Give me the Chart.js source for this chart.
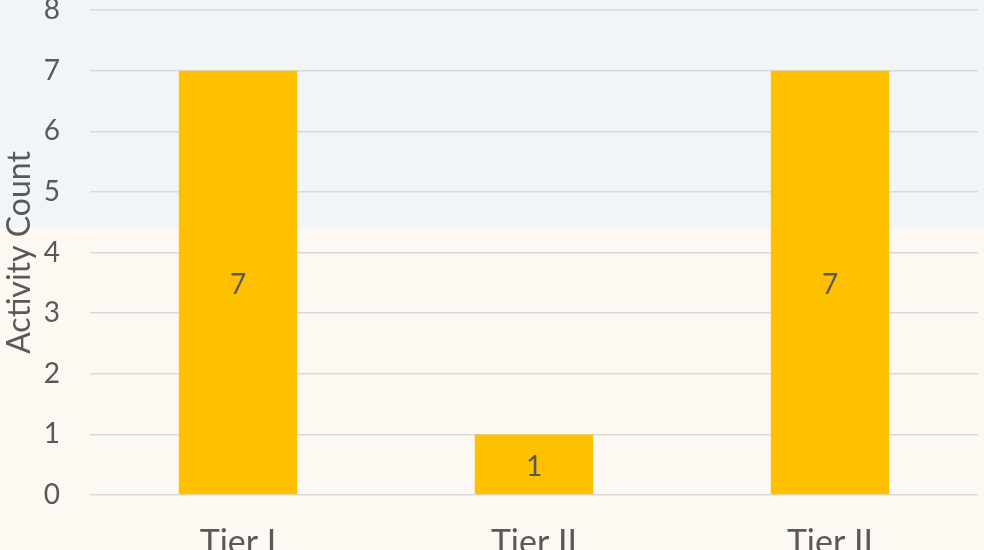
<!DOCTYPE html>
<html>
<head>
<meta charset="utf-8">
<script src="https://cdn.jsdelivr.net/npm/chart.js@4"></script>
<style>
  html, body {
    margin: 0;
    padding: 0;
    width: 984px;
    height: 550px;
    overflow: hidden;
    background: linear-gradient(to bottom, #f1f5f7 0px, #f1f5f7 228px, #fdf9f2 228px, #fdf9f2 100%);
  }
  /* the reference is cropped at the top and bottom, so the canvas runs past the window */
  #wrap {
    position: absolute;
    left: 0;
    top: -40px;
  }
</style>
</head>
<body>
<div id="wrap">
  <canvas id="bar-chart" width="984" height="640"></canvas>
</div>
<script>
const categories = ["Tier I", "Tier II", "Tier II"];
const activityCounts = [7, 1, 7];
const yTicks = [0, 1, 2, 3, 4, 5, 6, 7, 8];

const textColor = "#595959";
const fontFamily = "Lato, 'Open Sans', sans-serif";

// draws the value in the middle of each bar
const barValueLabels = {
  id: "barValueLabels",
  afterDatasetsDraw(chart) {
    const ctx = chart.ctx;
    const meta = chart.getDatasetMeta(0);
    ctx.save();
    ctx.font = "28px " + fontFamily;
    ctx.fillStyle = textColor;
    ctx.textAlign = "center";
    ctx.textBaseline = "middle";
    meta.data.forEach((bar, i) => {
      const mid = (bar.y + bar.base) / 2 + 3;
      ctx.fillText(String(activityCounts[i]), bar.x, mid);
    });
    ctx.restore();
  },
};

const ctx = document.getElementById("bar-chart").getContext("2d");
new Chart(ctx, {
  type: "bar",
  data: {
    labels: categories,
    datasets: [
      {
        label: "Activity Count",
        data: activityCounts,
        backgroundColor: "#FFC000",
        borderWidth: 0,
        barPercentage: 0.4,
        categoryPercentage: 1.0,
      },
    ],
  },
  options: {
    responsive: false,
    animation: false,
    layout: {
      padding: { top: 50, right: 6, left: 0, bottom: 0 },
    },
    plugins: {
      legend: { display: false },
      tooltip: { enabled: false },
    },
    scales: {
      x: {
        grid: { display: false, drawTicks: false },
        border: { display: false },
        ticks: {
          color: textColor,
          padding: 28,
          font: { family: fontFamily, size: 34 },
        },
        afterFit: (scale) => {
          scale.height = 105;
        },
      },
      y: {
        min: 0,
        max: 8,
        afterBuildTicks: (scale) => {
          scale.ticks = yTicks.map((v) => ({ value: v }));
        },
        grid: {
          color: "#d9d9d9",
          lineWidth: 1.5,
          drawTicks: false,
        },
        border: { display: false },
        ticks: {
          color: textColor,
          padding: 30,
          font: { family: fontFamily, size: 28 },
        },
        title: {
          display: true,
          text: "Activity Count",
          color: textColor,
          padding: { top: 0, bottom: 0 },
          font: { family: fontFamily, size: 32 },
        },
        afterFit: (scale) => {
          scale.width = 90;
        },
      },
    },
  },
  plugins: [barValueLabels],
});
</script>
</body>
</html>
